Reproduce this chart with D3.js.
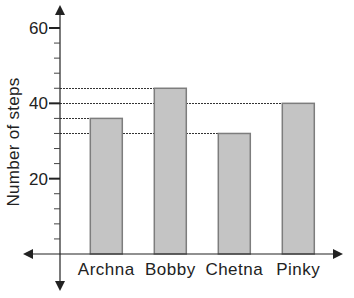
<!DOCTYPE html>
<html>
<head>
<meta charset="utf-8">
<script src="https://cdn.jsdelivr.net/npm/d3@7"></script>
<style>
  body { margin: 0; background: #fff; }
  text { font-family: "Liberation Sans", Arial, sans-serif; fill: #222; }
</style>
</head>
<body>
<div id="chart"></div>
<script>
// data
const names = ["Archna", "Bobby", "Chetna", "Pinky"];
const steps = [36, 44, 32, 40];
const majorTicks = [20, 40, 60];
const minorTicks = [4, 8, 12, 16, 24, 28, 32, 36, 44, 48, 52, 56];

const width = 354,
  height = 298;

const svg = d3
  .select("#chart")
  .append("svg")
  .attr("width", width)
  .attr("height", height);

const originX = 60;

const x = d3
  .scaleBand()
  .domain(names)
  .range([74.3, 330.3])
  .paddingInner(0.5)
  .paddingOuter(0.25);

const y = d3.scaleLinear().domain([0, 60]).range([254, 28]);

// dotted guide lines from the axis to each bar top
svg
  .selectAll("line.guide")
  .data(names)
  .join("line")
  .attr("class", "guide")
  .attr("x1", originX)
  .attr("x2", (d) => x(d))
  .attr("y1", (d, i) => Math.round(y(steps[i])) + 0.5)
  .attr("y2", (d, i) => Math.round(y(steps[i])) + 0.5)
  .attr("stroke", "#333")
  .attr("stroke-width", 1)
  .attr("stroke-dasharray", "2,1");

// bars
svg
  .selectAll("rect.bar")
  .data(names)
  .join("rect")
  .attr("class", "bar")
  .attr("x", (d) => x(d))
  .attr("y", (d, i) => y(steps[i]))
  .attr("width", x.bandwidth())
  .attr("height", (d, i) => y(0) - y(steps[i]))
  .attr("fill", "#c4c4c4")
  .attr("stroke", "#7d7d7d")
  .attr("stroke-width", 1.5);

// axes with arrows
const axisColor = "#222";
svg
  .append("line")
  .attr("x1", originX)
  .attr("x2", originX)
  .attr("y1", 12)
  .attr("y2", 286)
  .attr("stroke", axisColor)
  .attr("stroke-width", 1.2);
svg
  .append("line")
  .attr("x1", 28)
  .attr("x2", 338)
  .attr("y1", y(0))
  .attr("y2", y(0))
  .attr("stroke", axisColor)
  .attr("stroke-width", 1.2);

const arrows = [
  `M${originX},5 L${originX - 5},15 L${originX + 5},15 Z`,
  `M${originX},291 L${originX - 5},281 L${originX + 5},281 Z`,
  `M23,${y(0)} L33,${y(0) - 5} L33,${y(0) + 5} Z`,
  `M343,${y(0)} L333,${y(0) - 5} L333,${y(0) + 5} Z`,
];
svg
  .selectAll("path.arrow")
  .data(arrows)
  .join("path")
  .attr("class", "arrow")
  .attr("d", (d) => d)
  .attr("fill", axisColor);

// ticks
svg
  .selectAll("line.minor")
  .data(minorTicks)
  .join("line")
  .attr("class", "minor")
  .attr("x1", originX - 6)
  .attr("x2", originX)
  .attr("y1", (d) => y(d))
  .attr("y2", (d) => y(d))
  .attr("stroke", "#444")
  .attr("stroke-width", 1);

svg
  .selectAll("line.major")
  .data(majorTicks)
  .join("line")
  .attr("class", "major")
  .attr("x1", originX - 11)
  .attr("x2", originX)
  .attr("y1", (d) => y(d))
  .attr("y2", (d) => y(d))
  .attr("stroke", axisColor)
  .attr("stroke-width", 2);

svg
  .selectAll("text.ylab")
  .data(majorTicks)
  .join("text")
  .attr("class", "ylab")
  .attr("x", originX - 12)
  .attr("y", (d) => y(d))
  .attr("dy", "0.36em")
  .attr("text-anchor", "end")
  .attr("font-size", 17)
  .text((d) => d);

// category labels
svg
  .selectAll("text.xlab")
  .data(names)
  .join("text")
  .attr("class", "xlab")
  .attr("x", (d) => x(d) + x.bandwidth() / 2)
  .attr("y", 275)
  .attr("text-anchor", "middle")
  .attr("font-size", 17)
  .attr("letter-spacing", 0.5)
  .text((d) => d);

// y axis title
svg
  .append("text")
  .attr("transform", "translate(19,142) rotate(-90)")
  .attr("text-anchor", "middle")
  .attr("font-size", 17)
  .attr("letter-spacing", 0.3)
  .text("Number of steps");
</script>
</body>
</html>
